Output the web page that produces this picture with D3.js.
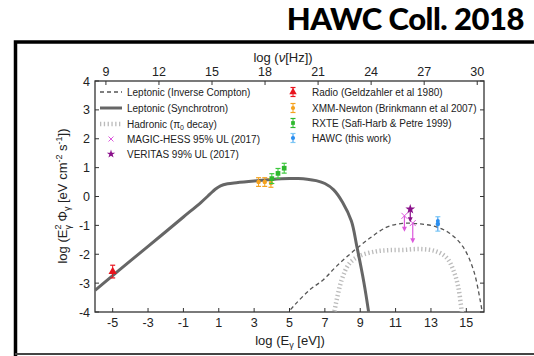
<!DOCTYPE html>
<html>
<head>
<meta charset="utf-8">
<script src="https://cdn.jsdelivr.net/npm/d3@7"></script>
<style>
  body { margin: 0; background: #fff; }
  svg text { font-family: "Liberation Sans", Arial, sans-serif; fill: #222; }
  .title { font-family: Lato, "Open Sans", sans-serif; font-weight: 900; fill: #000; }
</style>
</head>
<body>
<div id="chart"></div>
<script>
// Leptonic synchrotron curve: log E [eV], log flux
const synchE = [-6, -5, -4, -3, -2, -1, 0, 0.5, 0.8, 1.1, 1.5, 2, 3, 4, 5, 5.5, 6, 6.5, 7, 7.5, 8, 8.5, 8.8, 9.2, 9.5, 9.7]
const synchF = [-3.25, -2.74, -2.23, -1.73, -1.22, -0.71, -0.2, 0.08, 0.25, 0.37, 0.44, 0.48, 0.54, 0.59, 0.62, 0.62, 0.6, 0.55, 0.45, 0.23, -0.2, -0.85, -1.7, -2.95, -4.1, -5]

// Leptonic inverse Compton
const icE = [4.8, 5.3, 6.15, 6.9, 7.65, 8.6, 9.55, 10.5, 11.4, 12.4, 13.3, 14.05, 14.8, 15.4, 15.78, 15.95]
const icF = [-4.1, -3.75, -3.23, -2.89, -2.42, -1.9, -1.44, -1.06, -0.93, -0.95, -1.05, -1.27, -1.73, -2.54, -3.58, -4.2]

// Hadronic (pi0 decay)
const hadE = [7.5, 7.95, 8.4, 9.0, 9.9, 10.6, 11.4, 12.4, 13.3, 13.9, 14.26, 14.54, 14.73, 14.8]
const hadF = [-4.1, -2.89, -2.31, -2.05, -1.9, -1.86, -1.85, -1.82, -1.9, -2.13, -2.54, -3.12, -3.92, -4.2]

// data points [log E, log flux, err]
const radio = [[-5, -2.6, 0.22]]
const xmm = [[3.25, 0.5, 0.15], [3.6, 0.5, 0.15], [3.95, 0.47, 0.15]]
const rxte = [[4.0, 0.62, 0.17], [4.35, 0.8, 0.17], [4.7, 0.98, 0.17]]
const hawc = [[13.39, -0.95, 0.25]]
// upper limits [log E, log flux, arrow length]
const magicUL = [[11.5, -0.67, 0.55], [11.97, -0.92, 0.7]]
const veritasUL = [[11.83, -0.44, 0.45]]

const xTicks = [-5, -3, -1, 1, 3, 5, 7, 9, 11, 13, 15]
const yTicks = [-4, -3, -2, -1, 0, 1, 2, 3, 4]
const nuTicks = [9, 12, 15, 18, 21, 24, 27, 30]
const logH = 14.383 // log10(1/h) in Hz/eV

const W = 534, H = 356
const svg = d3.select('#chart').append('svg').attr('width', W).attr('height', H)

// frame and title
svg.append('text').attr('class', 'title')
    .attr('x', 524).attr('y', 30).attr('text-anchor', 'end')
    .attr('font-size', 31).attr('letter-spacing', -0.5).text('HAWC Coll. 2018')
svg.append('path').attr('d', 'M15.5,356 V42 H540').attr('fill', 'none')
    .attr('stroke', '#000').attr('stroke-width', 3.5)
svg.append('line').attr('x1', 15).attr('x2', 534).attr('y1', 354).attr('y2', 354)
    .attr('stroke', '#444').attr('stroke-width', 2)

const x = d3.scaleLinear().domain([-6, 16]).range([95, 484])
const y = d3.scaleLinear().domain([-4, 4]).range([312, 81])

const axisCol = '#333'

// plot box
svg.append('rect').attr('x', 95).attr('y', 81).attr('width', 389).attr('height', 231)
    .attr('fill', 'none').attr('stroke', axisCol).attr('stroke-width', 1.3)

// bottom axis
const gx = svg.append('g')
xTicks.forEach(t => {
    gx.append('line').attr('x1', x(t)).attr('x2', x(t)).attr('y1', 312).attr('y2', 308).attr('stroke', axisCol)
    gx.append('text').attr('x', x(t)).attr('y', 327).attr('text-anchor', 'middle').attr('font-size', 12.5).text(t)
})
const xl = svg.append('text').attr('x', 290).attr('y', 345).attr('text-anchor', 'middle').attr('font-size', 13)
xl.append('tspan').text('log (E')
xl.append('tspan').attr('font-size', 9).attr('dy', 3).text('γ')
xl.append('tspan').attr('dy', -3).text(' [eV])')

// top axis
nuTicks.forEach(t => {
    const px = x(t - logH)
    gx.append('line').attr('x1', px).attr('x2', px).attr('y1', 81).attr('y2', 85).attr('stroke', axisCol)
    gx.append('text').attr('x', px).attr('y', 76).attr('text-anchor', 'middle').attr('font-size', 12.5).text(t)
})
const tl = svg.append('text').attr('x', 283).attr('y', 62).attr('text-anchor', 'middle').attr('font-size', 13)
tl.append('tspan').text('log (')
tl.append('tspan').attr('font-style', 'italic').text('ν')
tl.append('tspan').text('[Hz])')

// left / right axis
yTicks.forEach(t => {
    gx.append('line').attr('x1', 95).attr('x2', 99).attr('y1', y(t)).attr('y2', y(t)).attr('stroke', axisCol)
    gx.append('line').attr('x1', 484).attr('x2', 480).attr('y1', y(t)).attr('y2', y(t)).attr('stroke', axisCol)
    gx.append('text').attr('x', 90).attr('y', y(t) + 4.5).attr('text-anchor', 'end').attr('font-size', 12.5).text(t)
})
const yl = svg.append('text').attr('transform', 'translate(67,196) rotate(-90)')
    .attr('text-anchor', 'middle').attr('font-size', 13)
yl.append('tspan').text('log (E')
yl.append('tspan').attr('font-size', 9).attr('dy', -6).text('2')
yl.append('tspan').attr('font-size', 9).attr('dx', -5).attr('dy', 10).text('γ')
yl.append('tspan').attr('dy', -4).text(' Φ')
yl.append('tspan').attr('font-size', 9).attr('dy', 3).text('γ')
yl.append('tspan').attr('dy', -3).text(' [eV cm')
yl.append('tspan').attr('font-size', 9).attr('dy', -5).text('-2')
yl.append('tspan').attr('dy', 5).text(' s')
yl.append('tspan').attr('font-size', 9).attr('dy', -5).text('-1')
yl.append('tspan').attr('dy', 5).text('])')

// curves
svg.append('clipPath').attr('id', 'clip').append('rect')
    .attr('x', 95).attr('y', 81).attr('width', 389).attr('height', 231)
const plot = svg.append('g').attr('clip-path', 'url(#clip)')
const line = d3.line().x(d => x(d[0])).y(d => y(d[1])).curve(d3.curveCatmullRom.alpha(0.5))
const zip = (a, b) => a.map((v, i) => [v, b[i]])

plot.append('path').attr('d', line(zip(hadE, hadF))).attr('fill', 'none')
    .attr('stroke', '#bbb').attr('stroke-width', 4.5).attr('stroke-dasharray', '1.3,2.5')
plot.append('path').attr('d', line(zip(icE, icF))).attr('fill', 'none')
    .attr('stroke', '#555').attr('stroke-width', 1.3).attr('stroke-dasharray', '4,3')
plot.append('path').attr('d', line(zip(synchE, synchF))).attr('fill', 'none')
    .attr('stroke', '#666').attr('stroke-width', 3)

// markers
const errBar = (g, px, py, e, col, capCol) => {
    g.append('line').attr('x1', px).attr('x2', px).attr('y1', py - e).attr('y2', py + e).attr('stroke', col).attr('stroke-width', 1)
    ;[py - e, py + e].forEach(cy => g.append('line').attr('x1', px - 2.5).attr('x2', px + 2.5)
        .attr('y1', cy).attr('y2', cy).attr('stroke', capCol || col).attr('stroke-width', 1.2))
}
const sym = (g, type, px, py, size, col) => g.append('path')
    .attr('d', d3.symbol().type(type).size(size)())
    .attr('transform', `translate(${px},${py})`).attr('fill', col)

const pts = svg.append('g')
radio.forEach(d => {
    errBar(pts, x(d[0]), y(d[1]), y(d[1] - d[2]) - y(d[1]), '#e8141e')
    sym(pts, d3.symbolTriangle, x(d[0]), y(d[1]), 30, '#e8141e')
})
xmm.forEach(d => {
    errBar(pts, x(d[0]), y(d[1]), y(d[1] - d[2]) - y(d[1]), '#f5a21e')
    sym(pts, d3.symbolCircle, x(d[0]), y(d[1]), 16, '#f5a21e')
})
rxte.forEach(d => {
    errBar(pts, x(d[0]), y(d[1]), y(d[1] - d[2]) - y(d[1]), '#3cc83c')
    sym(pts, d3.symbolSquare, x(d[0]), y(d[1]), 22, '#2db82d')
})
hawc.forEach(d => {
    errBar(pts, x(d[0]), y(d[1]), y(d[1] - d[2]) - y(d[1]), '#2b8ff0', '#7cc8f5')
    sym(pts, d3.symbolCircle, x(d[0]), y(d[1]), 16, '#2b8ff0')
    sym(pts, d3.symbolCircle, x(d[0]), y(d[1]) - 3, 12, '#2b8ff0')
})
const arrow = (g, px, py, len, col) => {
    g.append('line').attr('x1', px).attr('x2', px).attr('y1', py).attr('y2', py + len - 3)
        .attr('stroke', col).attr('stroke-width', 1.2)
    g.append('path').attr('d', `M${px - 2.5},${py + len - 5} L${px + 2.5},${py + len - 5} L${px},${py + len} Z`).attr('fill', col)
}
magicUL.forEach(d => {
    arrow(pts, x(d[0]), y(d[1]), y(d[1] - d[2]) - y(d[1]), '#dc5adc')
    pts.append('path').attr('d', 'M-3,-3 L3,3 M-3,3 L3,-3').attr('transform', `translate(${x(d[0])},${y(d[1])})`)
        .attr('fill', 'none').attr('stroke', '#dc5adc').attr('stroke-width', 1)
})
veritasUL.forEach(d => {
    arrow(pts, x(d[0]), y(d[1]), y(d[1] - d[2]) - y(d[1]), '#8a0f8a')
    sym(pts, d3.symbolStar, x(d[0]), y(d[1]), 30, '#8a0f8a')
})

// legend
const lg = svg.append('g').attr('font-size', 10)
const leftRows = [92, 108, 124, 139, 154]
const lText = ['Leptonic (Inverse Compton)', 'Leptonic (Synchrotron)', null, 'MAGIC-HESS 95% UL (2017)', 'VERITAS 99% UL (2017)']
lg.append('line').attr('x1', 100).attr('x2', 122).attr('y1', leftRows[0]).attr('y2', leftRows[0])
    .attr('stroke', '#555').attr('stroke-width', 1.3).attr('stroke-dasharray', '4,3')
lg.append('line').attr('x1', 100).attr('x2', 122).attr('y1', leftRows[1]).attr('y2', leftRows[1])
    .attr('stroke', '#666').attr('stroke-width', 3)
lg.append('line').attr('x1', 100).attr('x2', 122).attr('y1', leftRows[2]).attr('y2', leftRows[2])
    .attr('stroke', '#bbb').attr('stroke-width', 4.5).attr('stroke-dasharray', '1.3,2.5')
lg.append('path').attr('d', 'M-2.5,-2.5 L2.5,2.5 M-2.5,2.5 L2.5,-2.5').attr('transform', `translate(111,${leftRows[3]})`)
    .attr('stroke', '#dc5adc').attr('stroke-width', 1).attr('fill', 'none')
sym(lg, d3.symbolStar, 111, leftRows[4], 22, '#8a0f8a')
lText.forEach((t, i) => {
    if (t) lg.append('text').attr('x', 127).attr('y', leftRows[i] + 3.5).text(t)
})
const hl = lg.append('text').attr('x', 127).attr('y', leftRows[2] + 3.5)
hl.append('tspan').text('Hadronic (π')
hl.append('tspan').attr('font-size', 7).attr('dy', 2.5).text('0')
hl.append('tspan').attr('dy', -2.5).text(' decay)')

const rightRows = [92, 108, 123, 138]
const rText = ['Radio (Geldzahler et al 1980)', 'XMM-Newton (Brinkmann et al 2007)', 'RXTE (Safi-Harb & Petre 1999)', 'HAWC (this work)']
const rCols = ['#e8141e', '#f5a21e', '#2db82d', '#2b8ff0']
const rSym = [d3.symbolTriangle, d3.symbolCircle, d3.symbolSquare, d3.symbolCircle]
rText.forEach((t, i) => {
    errBar(lg, 293, rightRows[i], 4.5, rCols[i], i === 3 ? '#7cc8f5' : null)
    sym(lg, rSym[i], 293, rightRows[i], i === 0 ? 24 : 14, rCols[i])
    lg.append('text').attr('x', 312).attr('y', rightRows[i] + 3.5).text(t)
})
</script>
</body>
</html>
